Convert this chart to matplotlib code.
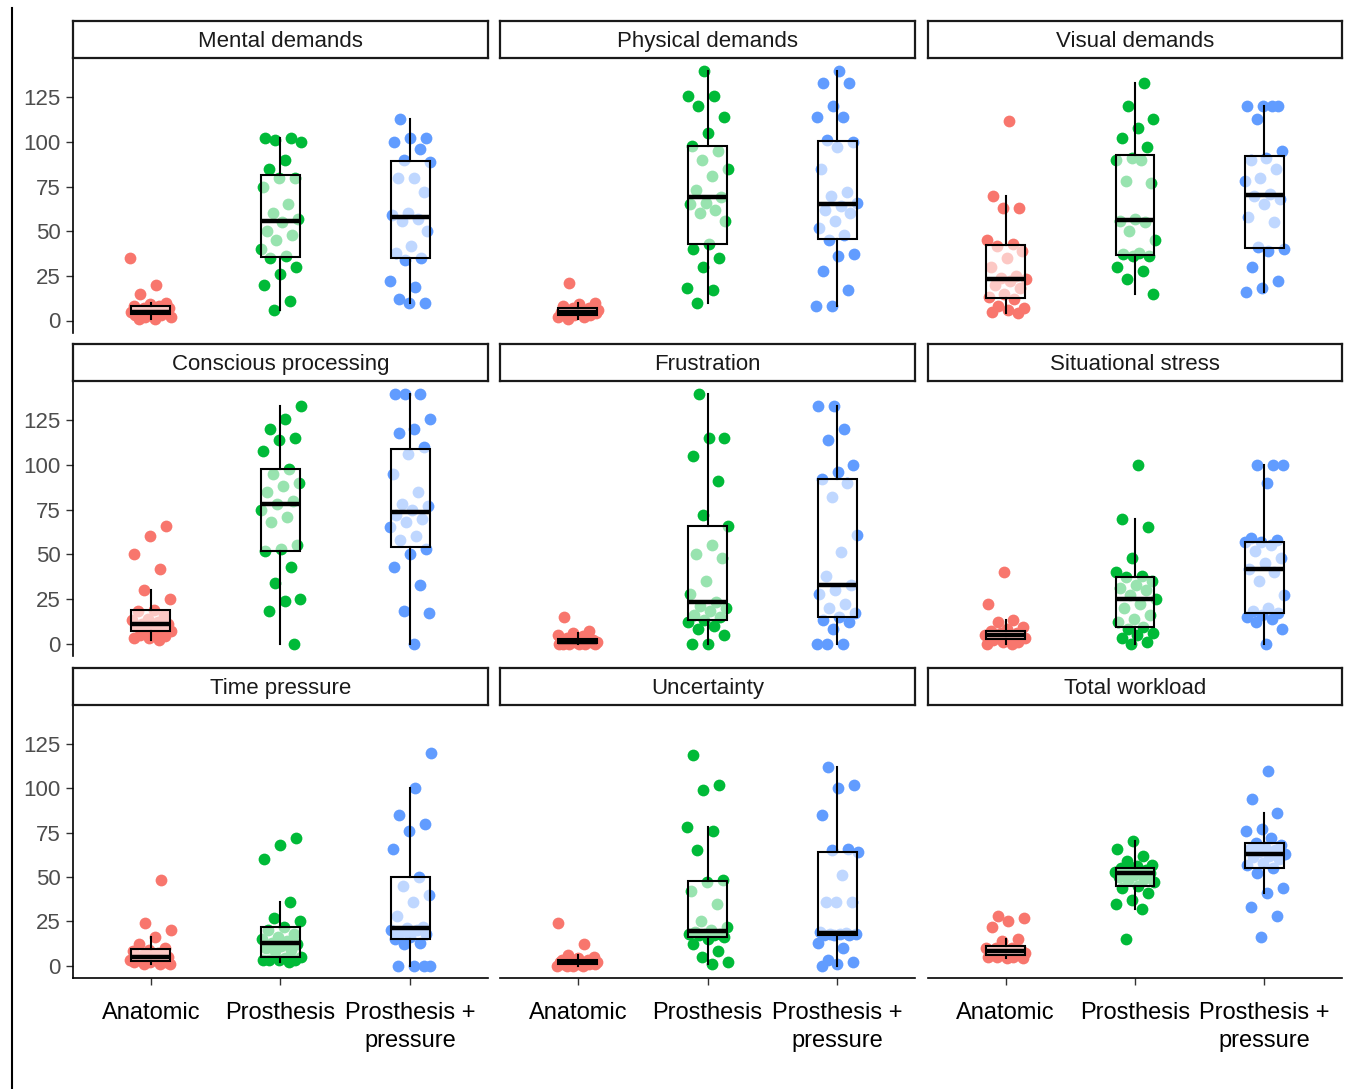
import numpy as np
import matplotlib
matplotlib.use("Agg")
from matplotlib import pyplot as plt
from matplotlib.lines import Line2D
from matplotlib.transforms import ScaledTranslation

plt.rcParams['font.family'] = ['Liberation Sans', 'DejaVu Sans']

# categories / facets
groups = ['Anatomic', 'Prosthesis', 'Prosthesis +\npressure']
facets = ['Mental demands', 'Physical demands', 'Visual demands',
          'Conscious processing', 'Frustration', 'Situational stress',
          'Time pressure', 'Uncertainty', 'Total workload']
colours = ['#F8766D', '#00BA38', '#619CFF']
yticks = [0, 25, 50, 75, 100, 125]

# scores (anatomic / prosthesis / prosthesis + pressure)
mental_anat = [35, 20, 15, 10, 9, 8, 8, 7, 7, 6, 6, 5, 5, 5, 5, 4, 4, 4, 3, 3, 2, 2, 1, 1]
mental_pros = [102, 102, 101, 100, 90, 85, 80, 80, 75, 65, 60, 57, 55, 50, 48, 45, 40, 36, 35, 30, 26, 20, 11, 6]
mental_press = [113, 102, 102, 100, 96, 90, 89, 80, 80, 72, 60, 59, 57, 56, 50, 42, 38, 35, 34, 22, 19, 12, 10, 10]

physical_anat = [21, 10, 9, 8, 7, 7, 6, 6, 5, 5, 5, 5, 4, 4, 4, 4, 3, 3, 3, 2, 2, 1]
physical_pros = [140, 126, 126, 120, 114, 105, 98, 95, 90, 85, 81, 73, 69, 66, 65, 62, 60, 56, 43, 40, 35, 30, 18, 17, 10]
physical_press = [140, 133, 133, 120, 114, 114, 101, 100, 97, 85, 72, 70, 66, 64, 62, 60, 56, 52, 48, 45, 37, 36, 28, 17, 8, 8]

visual_anat = [112, 70, 63, 63, 45, 43, 42, 39, 35, 30, 25, 24, 23, 22, 20, 18, 15, 13, 12, 8, 7, 6, 5, 4]
visual_pros = [133, 120, 113, 108, 102, 97, 91, 90, 90, 78, 77, 57, 56, 55, 50, 45, 38, 37, 36, 36, 30, 28, 23, 15]
visual_press = [120, 120, 120, 120, 113, 95, 91, 90, 85, 80, 78, 71, 70, 68, 65, 58, 55, 41, 40, 39, 30, 22, 18, 16]

conscious_anat = [66, 60, 50, 42, 30, 25, 19, 18, 16, 14, 13, 12, 11, 11, 10, 10, 9, 8, 7, 6, 5, 4, 3, 3, 2]
conscious_pros = [133, 126, 120, 115, 114, 108, 98, 95, 90, 88, 85, 80, 78, 75, 71, 68, 55, 53, 52, 43, 34, 25, 24, 18, 0]
conscious_press = [140, 140, 140, 126, 120, 118, 110, 106, 95, 85, 78, 77, 75, 72, 70, 68, 65, 60, 58, 53, 50, 43, 33, 18, 17, 0]

frustration_anat = [15, 7, 6, 5, 4, 3, 2, 2, 2, 1, 1, 1, 1, 1, 1, 1, 0, 0, 0, 0, 0, 0]
frustration_pros = [140, 115, 115, 105, 91, 72, 66, 55, 50, 48, 35, 28, 23, 21, 20, 18, 16, 15, 13, 12, 10, 8, 5, 0, 0]
frustration_press = [133, 133, 120, 114, 100, 96, 92, 90, 82, 61, 51, 38, 33, 30, 28, 22, 20, 17, 15, 13, 12, 8, 0, 0, 0]

stress_anat = [40, 22, 13, 12, 9, 8, 7, 6, 6, 5, 5, 5, 4, 4, 4, 3, 3, 3, 2, 2, 1, 1, 0, 0]
stress_pros = [100, 70, 65, 48, 40, 38, 37, 35, 33, 31, 30, 27, 25, 22, 20, 16, 14, 12, 9, 8, 6, 5, 3, 1, 0]
stress_press = [100, 100, 100, 90, 59, 58, 57, 57, 55, 52, 48, 45, 42, 40, 35, 27, 20, 18, 17, 16, 15, 14, 12, 8, 0]

time_anat = [48, 24, 20, 16, 12, 10, 9, 8, 7, 6, 5, 5, 5, 4, 4, 3, 3, 3, 2, 2, 2, 1, 1, 1]
time_pros = [72, 68, 60, 36, 27, 25, 22, 20, 18, 16, 15, 14, 13, 12, 11, 10, 9, 8, 5, 4, 3, 3, 3, 3, 2]
time_press = [120, 100, 85, 80, 76, 66, 50, 45, 40, 36, 28, 22, 21, 20, 20, 19, 18, 16, 15, 13, 12, 0, 0, 0, 0]

uncert_anat = [24, 12, 6, 5, 4, 3, 3, 3, 2, 2, 2, 2, 2, 2, 1, 1, 1, 1, 1, 1, 0, 0, 0, 0]
uncert_pros = [119, 102, 99, 78, 76, 65, 48, 47, 42, 35, 25, 22, 20, 19, 18, 18, 18, 17, 17, 16, 15, 12, 8, 5, 2, 1]
uncert_press = [112, 102, 100, 85, 66, 65, 64, 51, 36, 36, 36, 19, 18.5, 18, 18, 18, 17, 17, 17, 13, 10, 3, 2, 1, 0]

total_anat = [28, 27, 25, 22, 15, 14, 10, 10, 10, 9, 9, 8, 8, 8, 7, 7, 6, 6, 6, 5, 5, 5, 4, 4]
total_pros = [70, 66, 62, 59, 57, 56, 55, 54, 54, 53, 53, 52, 52, 51, 50, 49, 48, 47, 45, 44, 41, 37, 35, 32, 15]
total_press = [110, 94, 86, 77, 76, 72, 69, 68, 67, 66, 65, 64, 63, 62, 61, 60, 58, 57, 55, 52, 44, 41, 33, 28, 16]

facet_data = [
    [mental_anat, mental_pros, mental_press],
    [physical_anat, physical_pros, physical_press],
    [visual_anat, visual_pros, visual_press],
    [conscious_anat, conscious_pros, conscious_press],
    [frustration_anat, frustration_pros, frustration_press],
    [stress_anat, stress_pros, stress_press],
    [time_anat, time_pros, time_press],
    [uncert_anat, uncert_pros, uncert_press],
    [total_anat, total_pros, total_press],
]

W, H = 1351, 1089
fig = plt.figure(figsize=(W / 100, H / 100), dpi=100)

col_x = [(73, 488), (500, 915), (928, 1342)]
row_y = [(58, 333), (381, 656), (705, 978)]
strip_h = 37


def rect(x0, x1, y0, y1):
    return [x0 / W, 1 - y1 / H, (x1 - x0) / W, (y1 - y0) / H]


golden = 0.6180339887
for k, name in enumerate(facets):
    r, c = divmod(k, 3)
    x0, x1 = col_x[c]
    y0, y1 = row_y[r]
    ax = fig.add_axes(rect(x0, x1, y0, y1))

    # jittered points
    for i, vals in enumerate(facet_data[k]):
        vals = np.asarray(vals, dtype=float)
        n = len(vals)
        off = ((np.arange(n) * golden + 0.29 * k + 0.13 * i) % 1 - 0.5) * 0.32
        ax.scatter(i + 1 + off, vals, s=72, color=colours[i], lw=0, zorder=2)

    ax.boxplot(facet_data[k], positions=[1, 2, 3], widths=0.3, patch_artist=True,
               showfliers=False, showcaps=False, whis=1.5,
               boxprops=dict(facecolor=(1, 1, 1, 0.6), edgecolor='black', linewidth=1.5),
               medianprops=dict(color='black', linewidth=3.2),
               whiskerprops=dict(color='black', linewidth=1.5),
               zorder=3)

    ax.set_xlim(0.4, 3.6)
    ax.set_ylim(-7, 147)
    ax.spines['top'].set_visible(False)
    ax.spines['right'].set_visible(False)
    ax.spines['left'].set_visible(c == 0)
    ax.spines['bottom'].set_visible(r == 2)
    ax.spines['left'].set_linewidth(1.2)
    ax.spines['bottom'].set_linewidth(1.2)

    ax.set_yticks(yticks)
    if c == 0:
        ax.set_yticklabels([str(v) for v in yticks], fontsize=16, color='#4d4d4d')
        ax.tick_params(axis='y', length=5, width=1, color='#333333', pad=4)
    else:
        ax.tick_params(axis='y', left=False, labelleft=False)

    ax.set_xticks([1, 2, 3])
    if r == 2:
        labs = ax.set_xticklabels(groups, fontsize=17, color='black', linespacing=1.4)
        for lab, dx in zip(labs, [-3, -3, 10]):
            lab.set_transform(lab.get_transform() +
                              ScaledTranslation(dx / 100, 0, fig.dpi_scale_trans))
        ax.tick_params(axis='x', length=5, width=1, color='#333333', pad=12)
    else:
        ax.tick_params(axis='x', bottom=False, labelbottom=False)

    # facet strip
    sx = fig.add_axes(rect(x0, x1, y0 - strip_h, y0))
    sx.set_xticks([])
    sx.set_yticks([])
    for sp in sx.spines.values():
        sp.set_linewidth(1.6)
        sp.set_color('#1a1a1a')
    sx.text(0.5, 0.44, name, ha='center', va='center', fontsize=16,
            color='#1a1a1a', transform=sx.transAxes)

# page border line at the left edge
fig.add_artist(Line2D([12 / W, 12 / W], [0, 1 - 8 / H], color='black', lw=1.5))

fig.savefig('out.png', dpi=100, facecolor='white')
